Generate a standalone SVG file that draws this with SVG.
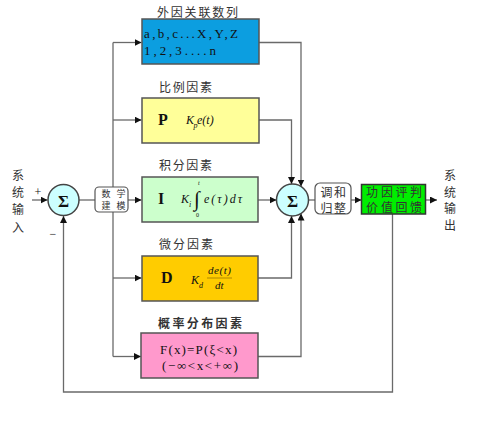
<svg xmlns="http://www.w3.org/2000/svg" width="480" height="421" viewBox="0 0 480 421">
<defs>
<marker id="arr" viewBox="0 0 10 10" refX="10" refY="5" markerWidth="7" markerHeight="7" markerUnits="userSpaceOnUse" orient="auto">
<path d="M0,0 L10,5 L0,10 z" fill="#111"/>
</marker>
<style>
.ln{fill:none;stroke:#6a6a6a;stroke-width:1.3}
.ar{marker-end:url(#arr)}
.box{stroke:#555;stroke-width:1.5}
.cjk{font-family:"Noto Sans CJK SC","Noto Sans",sans-serif;fill:#333}
.ttl{font-size:12px}
.ser{font-family:"Liberation Serif","DejaVu Serif",serif;fill:#111}
.it{font-style:italic}
.bd{font-weight:bold}
.sig{font-family:"Liberation Serif","DejaVu Serif",serif;font-weight:bold;font-size:17px;fill:#111;text-anchor:middle}
.circ{fill:#ccffff;stroke:#444;stroke-width:1.5}
.rnd{fill:#fff;stroke:#555;stroke-width:1.2}
</style>
</defs>
<rect width="480" height="421" fill="#fff"/>

<g id="connectors">
<path class="ln ar" d="M32,200 H47.5"/>
<path class="ln" d="M79,200 H95"/>
<path class="ln" d="M113,42.5 V356.5"/>
<path class="ln ar" d="M113,42.5 H141.5"/>
<path class="ln ar" d="M113,120 H141.5"/>
<path class="ln ar" d="M128,200 H141.5"/>
<path class="ln ar" d="M113,278 H141.5"/>
<path class="ln ar" d="M113,356.5 H141"/>
<path class="ln ar" d="M259,42.5 H301 V186.5"/>
<path class="ln ar" d="M259,120 H291.5 V184"/>
<path class="ln ar" d="M258,200 H276.5"/>
<path class="ln ar" d="M258,278 H291.5 V216"/>
<path class="ln ar" d="M258,356.5 H301 V213.5"/>
<path class="ln" d="M308.5,200 H315"/>
<path class="ln ar" d="M351,200 H361.5"/>
<path class="ln ar" d="M426,200 H437"/>
<path class="ln ar" d="M392.5,214 V392 H63.5 V216"/>
</g>

<g id="input-label">
<text class="cjk" font-size="12" text-anchor="middle" x="18 18 18 18" y="179.5 196.5 214 231.5">系统输入</text>
<text class="ser" font-size="12" x="38" y="196" text-anchor="middle">+</text>
<text class="ser" font-size="12" x="53" y="238" text-anchor="middle">−</text>
</g>

<g id="sum1">
<circle class="circ" cx="63.5" cy="200" r="15.5"/>
<text class="sig" x="63.5" y="206.5">Σ</text>
</g>

<g id="model">
<rect class="rnd" x="95" y="187" width="33" height="25" rx="4"/>
<text class="cjk" font-size="9" text-anchor="middle" x="106 121" y="197 197">数学</text>
<text class="cjk" font-size="9" text-anchor="middle" x="106 121" y="209 209">建模</text>
</g>

<g id="external">
<text class="cjk ttl" x="157" y="16.5" textLength="81" lengthAdjust="spacing">外因关联数列</text>
<rect class="box" x="142" y="19" width="117" height="45" fill="#0c9ee0" stroke="#333"/>
<text class="ser" font-size="13" x="144" y="38" textLength="94" lengthAdjust="spacing">a,b,c...X,Y,Z</text>
<text class="ser" font-size="13" x="144" y="55" textLength="72" lengthAdjust="spacing">1,2,3....n</text>
</g>

<g id="proportional">
<text class="cjk ttl" x="159" y="91.5" textLength="53" lengthAdjust="spacing">比例因素</text>
<rect class="box" x="142" y="98" width="117" height="45" fill="#ffff99"/>
<text class="ser bd" font-size="16" x="158" y="125">P</text>
<text class="ser it" font-size="12" x="186" y="124">K</text>
<text class="ser it" font-size="8" x="193.5" y="128">p</text>
<text class="ser it" font-size="12" x="197" y="124">e(t)</text>
</g>

<g id="integral">
<text class="cjk ttl" x="159" y="169.5" textLength="53" lengthAdjust="spacing">积分因素</text>
<rect class="box" x="142" y="177" width="116" height="45" fill="#ccffcc"/>
<text class="ser bd" font-size="16" x="158" y="204">I</text>
<text class="ser it" font-size="12" x="181" y="203">K</text>
<text class="ser it" font-size="8" x="189" y="207">i</text>
<text class="ser" font-size="21" x="194" y="206">∫</text>
<text class="ser it" font-size="6" x="198" y="185">t</text>
<text class="ser" font-size="6" x="196" y="217">0</text>
<text class="ser it" font-size="12" x="204" y="203" textLength="38" lengthAdjust="spacing">e(τ)dτ</text>
</g>

<g id="derivative">
<text class="cjk ttl" x="159" y="248.5" textLength="54" lengthAdjust="spacing">微分因素</text>
<rect class="box" x="142" y="256" width="116" height="45" fill="#ffcc00" stroke="#3a3a2a"/>
<text class="ser bd" font-size="16" x="161" y="283">D</text>
<text class="ser it" font-size="12" x="191" y="284">K</text>
<text class="ser it" font-size="8" x="199" y="288">d</text>
<text class="ser it" font-size="11" x="208" y="274" textLength="23" lengthAdjust="spacing">de(t)</text>
<path d="M207,278 H232" stroke="#7a5a00" stroke-width="0.6"/>
<text class="ser it" font-size="11" x="215" y="289">dt</text>
</g>

<g id="probability">
<text class="cjk ttl bd" x="158" y="327.5" textLength="84" lengthAdjust="spacing">概率分布因素</text>
<rect class="box" x="141" y="333" width="117" height="45" fill="#ff99cc"/>
<text class="ser" font-size="13" x="160" y="354" textLength="77" lengthAdjust="spacing">F(x)=P(ξ&lt;x)</text>
<text class="ser" font-size="13" x="162" y="370" textLength="76" lengthAdjust="spacing">(−∞&lt;x&lt;+∞)</text>
</g>

<g id="sum2">
<circle class="circ" cx="292.5" cy="200" r="16"/>
<text class="sig" x="292.5" y="206.5">Σ</text>
</g>

<g id="harmonize">
<rect class="rnd" x="315" y="183" width="36" height="31" rx="5"/>
<text class="cjk" font-size="12" text-anchor="middle" x="326.5 340" y="196.5 196.5">调和</text>
<text class="cjk" font-size="12" text-anchor="middle" x="326.5 340" y="212.5 212.5">归整</text>
</g>

<g id="evaluate">
<rect x="361.5" y="184.5" width="64" height="29.5" fill="#00ee00" stroke="#333" stroke-width="1.5"/>
<text class="cjk" font-size="12" fill="#222" text-anchor="middle" x="372 387 401.5 416" y="196.5 196.5 196.5 196.5">功因评判</text>
<text class="cjk" font-size="12" fill="#222" text-anchor="middle" x="372 387 401.5 416" y="212 212 212 212">价值回馈</text>
</g>

<g id="output-label">
<text class="cjk" font-size="12" text-anchor="middle" x="450 450 450 450" y="179.5 196.5 213 230">系统输出</text>
</g>
</svg>
